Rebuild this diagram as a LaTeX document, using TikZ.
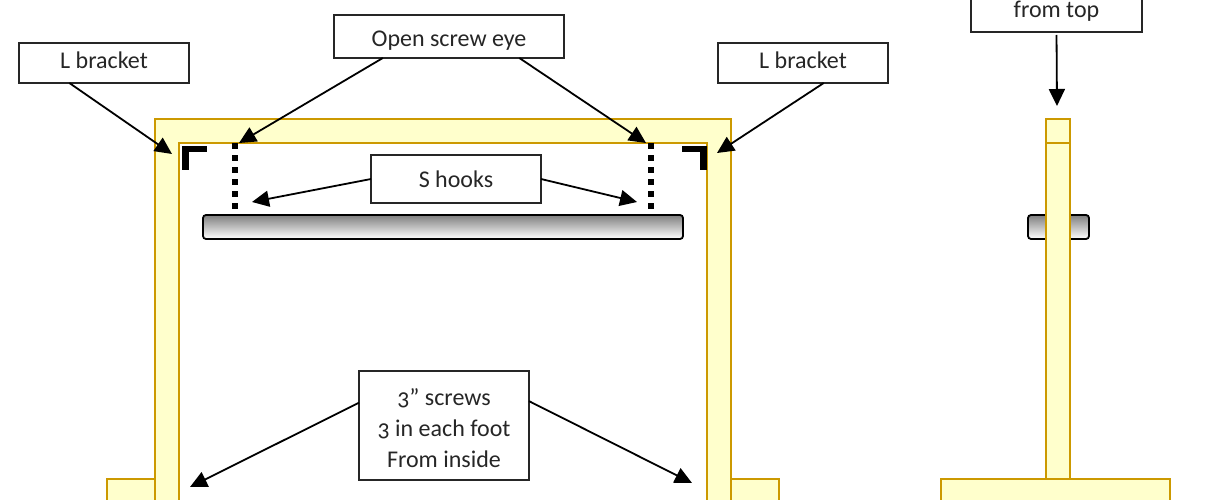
\documentclass[tikz,border=0pt]{standalone}
\usepackage{fontspec}
\setmainfont[Numbers=OldStyle]{Carlito}
\usetikzlibrary{positioning, arrows.meta}

\definecolor{woodfill}{HTML}{FFFFCC}
\definecolor{woodline}{HTML}{CC9900}

\tikzset{
    wood/.style={draw=woodline, fill=woodfill, line width=2pt},
    callout/.style={draw=black!85, fill=white, line width=1.8pt, rectangle, inner sep=0pt, outer sep=0pt,
        align=center, text=black!85, font=\fontsize{24}{31}\selectfont},
    pointer/.style={-{Triangle[length=17pt,width=16pt]}, line width=1.8pt, draw=black},
    rod/.style={draw=black, line width=1.8pt, rounded corners=3pt, top color=black!50, bottom color=white,
        rectangle, inner sep=0pt, outer sep=0pt},
    chain/.style={draw=black, line width=6pt, dash pattern=on 6pt off 6pt},
    angle/.style={draw=black, line width=6.5pt, miter limit=10}
}

\begin{document}
\begin{tikzpicture}[x=1pt, y=1pt]

    \useasboundingbox (0,0) rectangle (1215,-500);

    % feet of the front view
    \draw[wood] (107,-520) -- (107,-479) -- (155,-479) -- (155,-520);
    \draw[wood] (779,-520) -- (779,-479) -- (731,-479) -- (731,-520);

    % rod behind the side view
    \node(rodside)[rod, minimum width=61pt, minimum height=24pt] at (1058.5,-227) {};

    % front frame
    \draw[wood] (155,-520) -- (155,-119) -- (731,-119) -- (731,-520) -- (707,-520)
                -- (707,-143) -- (179,-143) -- (179,-520) -- cycle;

    % side view
    \draw[wood] (1046,-520) rectangle (1070,-119);
    \draw[wood] (1046,-143) -- (1070,-143);
    \draw[wood] (941,-520) rectangle (1170,-479);

    % brackets
    \draw[angle] (185.5,-169.5) -- (185.5,-149) -- (207,-149);
    \draw[angle] (703.5,-169.5) -- (703.5,-149) -- (682,-149);

    % rod and chains
    \node(rodfront)[rod, minimum width=480pt, minimum height=24pt] at (443,-227) {};
    \draw[chain] (235,-143) -- (235,-210);
    \draw[chain] (651,-143) -- (651,-210);

    % labels
    \node(bracketl)[callout, minimum width=170pt, minimum height=40pt, text depth=5pt] at (104,-63) {L bracket};
    \node(screweye)[callout, minimum width=230pt, minimum height=43pt, text height=23pt] at (449,-36.5) {Open screw eye};
    \node(bracketr)[callout, minimum width=170pt, minimum height=40pt, text depth=5pt, right=529pt of bracketl] {L bracket};
    \node(shooks)[callout, minimum width=170pt, minimum height=48pt] at (456,-179) {S hooks};
    \node(screws)[callout, minimum width=170pt, minimum height=109pt] at (444,-425.5) {\rule{0pt}{23pt}3” screws\\3 in each foot\\From inside};
    \node(fromtop)[callout, minimum width=171pt, minimum height=42pt] at (1056.5,-11) {from top};

    % arrow ends
    \coordinate(tipbl) at (172,-154);
    \coordinate(tipbr) at (717,-153);
    \coordinate(tipel) at (239,-143);
    \coordinate(tiper) at (646,-143);
    \coordinate(tiphl) at (252,-202);
    \coordinate(tiphr) at (637,-202);
    \coordinate(tipsl) at (190,-487);
    \coordinate(tipsr) at (692,-483);
    \coordinate(tipt) at (1057,-106);

    \draw[pointer] (bracketl.210.5) -- (tipbl);
    \draw[pointer] (bracketr.-44) -- (tipbr);
    \draw[pointer] (screweye.198.3) -- (tipel);
    \draw[pointer] (screweye.-17.3) -- (tiper);
    \draw[pointer] (shooks.180) -- (tiphl);
    \draw[pointer] (shooks.0) -- (tiphr);
    \draw[pointer] (screws.165.2) -- (tipsl);
    \draw[pointer] (screws.16.3) -- (tipsr);
    \draw[pointer, shorten <=3pt] (fromtop.south) -- (tipt);

\end{tikzpicture}
\end{document}
